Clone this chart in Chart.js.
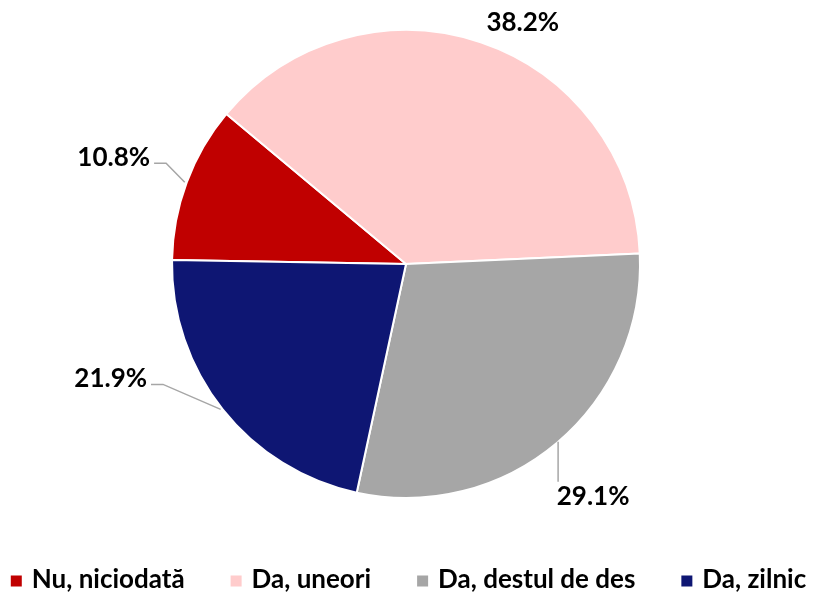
<!DOCTYPE html>
<html>
<head>
<meta charset="utf-8">
<script src="https://cdn.jsdelivr.net/npm/chart.js@4.4.1/dist/chart.umd.min.js"></script>
<style>
  html, body { margin: 0; padding: 0; background: #fff; }
  #wrap { width: 817px; height: 592px; position: relative; }
</style>
</head>
<body>
<div id="wrap"><canvas id="pieChart"></canvas></div>
<script>
// data
const categories = ["Nu, niciodată", "Da, uneori", "Da, destul de des", "Da, zilnic"];
const shares = [10.8, 38.2, 29.1, 21.9];
const sliceColors = ["#C00000", "#FFCCCC", "#A6A6A6", "#0E1673"];

const FONT = "Lato, 'Liberation Sans', sans-serif";

// label placement relative to slice edge (dx, dy) and leader style
const labelOffsets = [[-73, -25], [42, -20], [36, 54], [-112, -31]];
const leaderStyle = ["left", "none", "down", "left"];

const pieLabels = {
    id: "pieLabels",
    afterDatasetsDraw(chart) {
        const ctx = chart.ctx;
        const arcs = chart.getDatasetMeta(0).data;
        ctx.save();
        ctx.font = "bold 26px " + FONT;
        ctx.textAlign = "center";
        ctx.textBaseline = "middle";
        arcs.forEach((arc, i) => {
            const { x, y, startAngle, endAngle, outerRadius } = arc.getProps(["x", "y", "startAngle", "endAngle", "outerRadius"], true);
            const mid = (startAngle + endAngle) / 2;
            const ex = x + outerRadius * Math.cos(mid);
            const ey = y + outerRadius * Math.sin(mid);
            const lx = ex + labelOffsets[i][0];
            const ly = ey + labelOffsets[i][1];
            const text = shares[i].toFixed(1) + "%";
            const w = ctx.measureText(text).width;

            ctx.strokeStyle = "#A6A6A6";
            ctx.lineWidth = 1.5;
            if (leaderStyle[i] === "left") {
                const endX = lx + w / 2 + 4;
                const endY = ly + 6;
                ctx.beginPath();
                ctx.moveTo(ex - 2, ey);
                ctx.lineTo(endX + 12, endY);
                ctx.lineTo(endX, endY);
                ctx.stroke();
            } else if (leaderStyle[i] === "down") {
                ctx.beginPath();
                ctx.moveTo(ex + 1, ey - 1);
                ctx.lineTo(ex + 1, ly - 15);
                ctx.stroke();
            }
            ctx.fillStyle = "#000";
            ctx.fillText(text, lx, ly);
        });
        ctx.restore();
    }
};

// legend drawn along the bottom
const bottomLegend = {
    id: "bottomLegend",
    afterDraw(chart) {
        const ctx = chart.ctx;
        const box = 11, boxGap = 10, itemGap = 46;
        ctx.save();
        ctx.font = "bold 26px " + FONT;
        ctx.textBaseline = "middle";
        const widths = categories.map(c => ctx.measureText(c).width);
        const total = widths.reduce((a, w) => a + box + boxGap + w, 0) + itemGap * (categories.length - 1);
        let x = (chart.width - total) / 2;
        const cy = 580;
        categories.forEach((c, i) => {
            ctx.fillStyle = sliceColors[i];
            ctx.fillRect(x, cy - box / 2 + 1, box, box);
            x += box + boxGap;
            ctx.fillStyle = "#000";
            ctx.fillText(c, x, cy);
            x += widths[i] + itemGap;
        });
        ctx.restore();
    }
};

new Chart(document.getElementById("pieChart"), {
    type: "pie",
    data: {
        labels: categories,
        datasets: [{
            data: shares,
            backgroundColor: sliceColors,
            borderColor: "#FFFFFF",
            borderWidth: 2
        }]
    },
    options: {
        responsive: true,
        maintainAspectRatio: false,
        animation: false,
        rotation: -89,
        layout: { padding: { top: 29, bottom: 93, left: 0, right: 5 } },
        plugins: {
            legend: { display: false },
            tooltip: { enabled: false }
        }
    },
    plugins: [pieLabels, bottomLegend]
});
</script>
</body>
</html>
